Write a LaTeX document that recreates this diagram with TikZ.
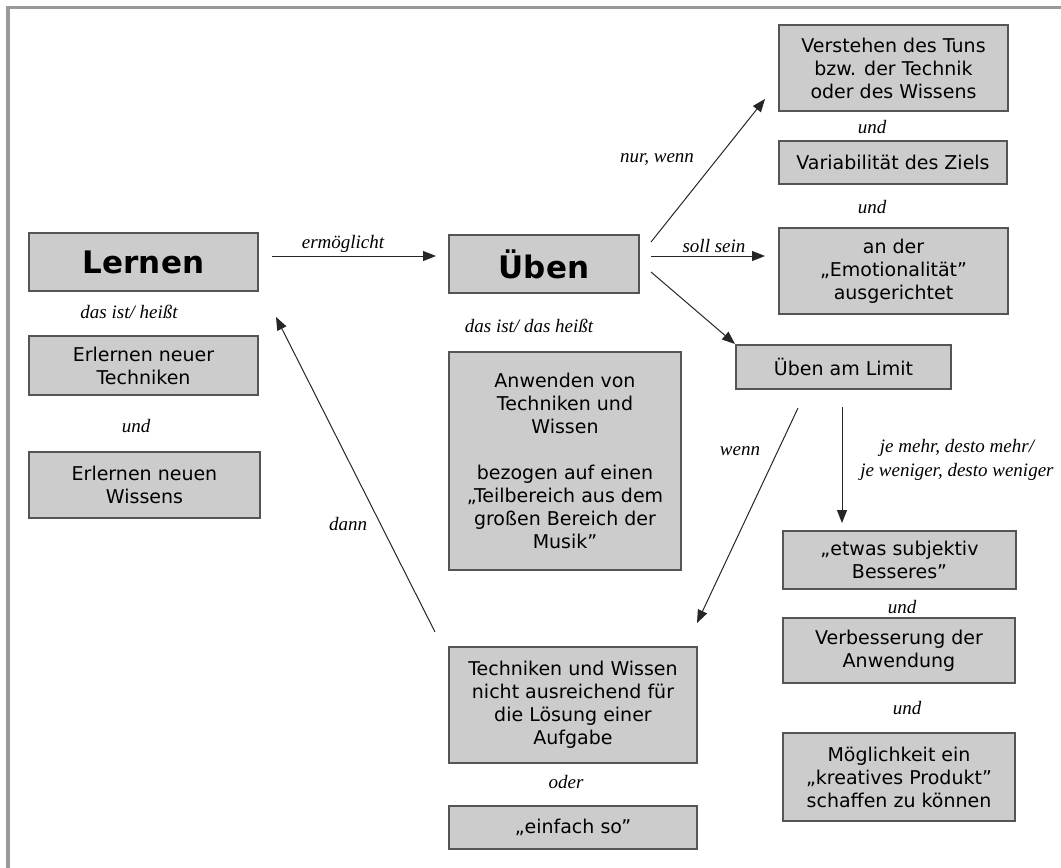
\documentclass[tikz,border=0pt]{standalone}
\usepackage{fontspec}
\setmainfont{DejaVu Sans}
\newfontfamily\lblfont{Liberation Serif}
\usetikzlibrary{arrows.meta}
\definecolor{boxfill}{HTML}{CCCCCC}
\definecolor{boxline}{HTML}{555555}
\definecolor{framegray}{HTML}{999999}
\tikzset{%
  box/.style   = {shape=rectangle, draw=boxline, fill=boxfill,%
                  line width=1.3pt, align=center, inner sep=0pt,%
                  font=\fontsize{19}{23}\selectfont},%
  title/.style = {box, font=\bfseries\fontsize{31}{36}\selectfont},%
  lbl/.style   = {align=center, inner sep=0pt,%
                  font=\lblfont\itshape\fontsize{19}{24}\selectfont},%
  conn/.style  = {draw=black!85, line width=1pt,%
                  -{Triangle[length=13pt,width=10pt]}}%
}

\begin{document}
\begin{tikzpicture}[x=1pt,y=-1pt]
	\useasboundingbox (0,0) rectangle (1061,868);
	\draw[framegray,line width=3.5pt] (8,868) |- (1061,7.5);
	% left column
	\node[title,minimum width=229,minimum height=58] (lernen) at (143.5,262) {Lernen};
	\node[lbl] (lernenIst) at (129,312) {das ist/ heißt};
	\node[box,minimum width=229,minimum height=59] (erlTech) at (143.5,365.5) {Erlernen neuer\\Techniken};
	\node[lbl] (undL) at (136,426) {und};
	\node[box,minimum width=231,minimum height=66] (erlWiss) at (144.5,485) {Erlernen neuen\\Wissens};
	% middle column
	\node[title,minimum width=190,minimum height=58] (ueben) at (544,264) {Üben};
	\node[lbl] (uebenIst) at (529,326) {das ist/ das heißt};
	\node[box,minimum width=232,minimum height=218] (anwenden) at (565,461)
		{Anwenden von\\Techniken und\\Wissen\\[23pt]bezogen auf einen\\„Teilbereich aus dem\\großen Bereich der\\Musik”};
	\node[box,minimum width=248,minimum height=116] (nichtAus) at (573,705)
		{Techniken und Wissen\\nicht ausreichend für\\die Lösung einer\\Aufgabe};
	\node[lbl] (oder) at (566,782) {oder};
	\node[box,minimum width=248,minimum height=43] (einfach) at (573,827.5) {„einfach so”};
	% right column
	\node[box,minimum width=229,minimum height=86] (verstehen) at (893.5,68)
		{Verstehen des Tuns\\bzw. der Technik\\oder des Wissens};
	\node[lbl] (undR1) at (872,127) {und};
	\node[box,minimum width=228,minimum height=43] (variab) at (893,162.5) {Variabilität des Ziels};
	\node[lbl] (undR2) at (872,207) {und};
	\node[box,minimum width=229,minimum height=86] (emotion) at (893.5,271)
		{an der\\„Emotionalität”\\ausgerichtet};
	\node[box,minimum width=215,minimum height=44] (limit) at (843.5,367) {Üben am Limit};
	\node[box,minimum width=233,minimum height=58] (besser) at (899.5,560) {„etwas subjektiv\\Besseres”};
	\node[lbl] (undR3) at (902,607) {und};
	\node[box,minimum width=232,minimum height=65] (verbess) at (899,650.5) {Verbesserung der\\Anwendung};
	\node[lbl] (undR4) at (907,708) {und};
	\node[box,minimum width=232,minimum height=88] (moegl) at (899,777)
		{Möglichkeit ein\\„kreatives Produkt”\\schaffen zu können};
	% connector ends
	\coordinate (lernenOut) at (272,256);
	\coordinate (lernenIn) at (276,317);
	\coordinate (uebenIn) at (436,256);
	\coordinate (uebenUp) at (651,242);
	\coordinate (uebenMid) at (651,256);
	\coordinate (uebenLow) at (651,272);
	\coordinate (verstIn) at (765,99);
	\coordinate (emoIn) at (765,256);
	\coordinate (limitIn) at (735,344);
	\coordinate (limitOutL) at (798,408);
	\coordinate (limitOutR) at (842,407);
	\coordinate (besserIn) at (842,523);
	\coordinate (nichtIn) at (697,623);
	\coordinate (nichtOut) at (435,632);
	% connectors
	\draw[conn] (lernenOut) -- (uebenIn);
	\node[lbl] (ermoegl) at (343,244) {ermöglicht};
	\draw[conn] (uebenUp) -- (verstIn);
	\node[lbl] (nurWenn) at (657,159) {nur, wenn};
	\draw[conn] (uebenMid) -- (emoIn);
	\node[lbl] (sollSein) at (714,246) {soll sein};
	\draw[conn] (uebenLow) -- (limitIn);
	\draw[conn] (limitOutL) -- (nichtIn);
	\node[lbl] (wenn) at (740,451) {wenn};
	\draw[conn] (limitOutR) -- (besserIn);
	\node[lbl] (jeMehr) at (957,460) {je mehr, desto mehr/\\je weniger, desto weniger};
	\draw[conn] (nichtOut) -- (lernenIn);
	\node[lbl] (dann) at (348,524) {dann};
\end{tikzpicture}
\end{document}
